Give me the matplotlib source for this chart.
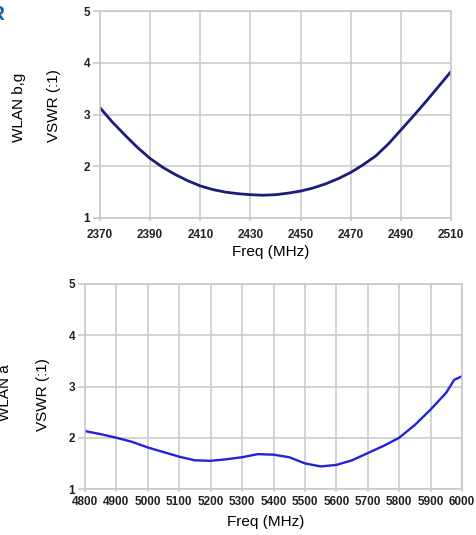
import matplotlib
matplotlib.use("Agg")
import matplotlib.pyplot as plt

# Top panel (WLAN b,g)
freq_bg = [2370, 2375, 2380, 2385, 2390, 2395, 2400, 2405, 2410, 2415, 2420, 2425,
           2430, 2435, 2440, 2445, 2450, 2455, 2460, 2465, 2470, 2475, 2480, 2485,
           2490, 2495, 2500, 2505, 2510]
vswr_bg = [3.13, 2.85, 2.60, 2.36, 2.15, 1.98, 1.84, 1.72, 1.62, 1.55, 1.50, 1.47,
           1.45, 1.44, 1.45, 1.48, 1.52, 1.58, 1.66, 1.76, 1.88, 2.03, 2.20, 2.43,
           2.70, 2.97, 3.25, 3.54, 3.83]
ticks_bg = [2370, 2390, 2410, 2430, 2450, 2470, 2490, 2510]

# Bottom panel (WLAN a)
freq_a = [4800, 4850, 4900, 4950, 5000, 5050, 5100, 5150, 5200, 5250, 5300, 5350,
          5400, 5450, 5500, 5550, 5600, 5650, 5700, 5750, 5800, 5850, 5900, 5950,
          5975, 6000]
vswr_a = [2.13, 2.07, 2.00, 1.92, 1.81, 1.72, 1.63, 1.56, 1.55, 1.58, 1.62, 1.68,
          1.67, 1.62, 1.50, 1.44, 1.47, 1.56, 1.70, 1.84, 2.00, 2.25, 2.55, 2.88,
          3.13, 3.20]
ticks_a = list(range(4800, 6001, 100))
yticks = [1, 2, 3, 4, 5]

W, H = 476, 535
fig = plt.figure(figsize=(W / 100, H / 100), dpi=100)
plt.rcParams['font.family'] = ['Liberation Sans', 'DejaVu Sans']

def px(x0, y0, x1, y1):
    return [x0 / W, 1 - y1 / H, (x1 - x0) / W, (y1 - y0) / H]

grid_c = '#c8c8c8'

def style(ax, xt, xpad):
    ax.set_ylim(1, 5)
    ax.set_yticks(yticks)
    ax.set_xticks(xt)
    ax.grid(True, color=grid_c, linewidth=1.1)
    ax.set_axisbelow(True)
    for s in ax.spines.values():
        s.set_color(grid_c)
        s.set_linewidth(1.1)
    ax.tick_params(axis='y', length=5, width=1.1, color=grid_c, pad=2, labelsize=8.5)
    ax.tick_params(axis='x', length=2, width=1.1, color=grid_c, pad=xpad, labelsize=8.5)
    for lab in ax.get_xticklabels() + ax.get_yticklabels():
        lab.set_fontweight('bold')
        lab.set_color('#222222')

ax1 = fig.add_axes(px(100, 11, 451, 218))
ax1.plot(freq_bg, vswr_bg, color='#1c1c7a', linewidth=2.0, solid_capstyle='round')
ax1.set_xlim(2370, 2510)
style(ax1, ticks_bg, 6)

ax2 = fig.add_axes(px(85, 284, 462, 489))
ax2.plot(freq_a, vswr_a, color='#2222dd', linewidth=1.7, solid_capstyle='round')
ax2.set_xlim(4800, 6000)
style(ax2, ticks_a, 3)

def ftext(x, y, s, **kw):
    fig.text(x / W, 1 - y / H, s, ha='center', va='center', **kw)

ftext(271, 252, 'Freq (MHz)', fontsize=11)
ftext(266, 522, 'Freq (MHz)', fontsize=11)
ftext(54, 106, 'VSWR (:1)', fontsize=11, rotation=90)
ftext(19, 107, 'WLAN b,g', fontsize=11, rotation=90)
ftext(43, 395, 'VSWR (:1)', fontsize=11, rotation=90)
ftext(5, 393, 'WLAN a', fontsize=11, rotation=90)
fig.text(4.5 / W, 1 - 15 / H, 'R', ha='right', va='center', fontsize=15,
         fontweight='bold', color='#1566a8')

fig.savefig('out.png', dpi=100)
